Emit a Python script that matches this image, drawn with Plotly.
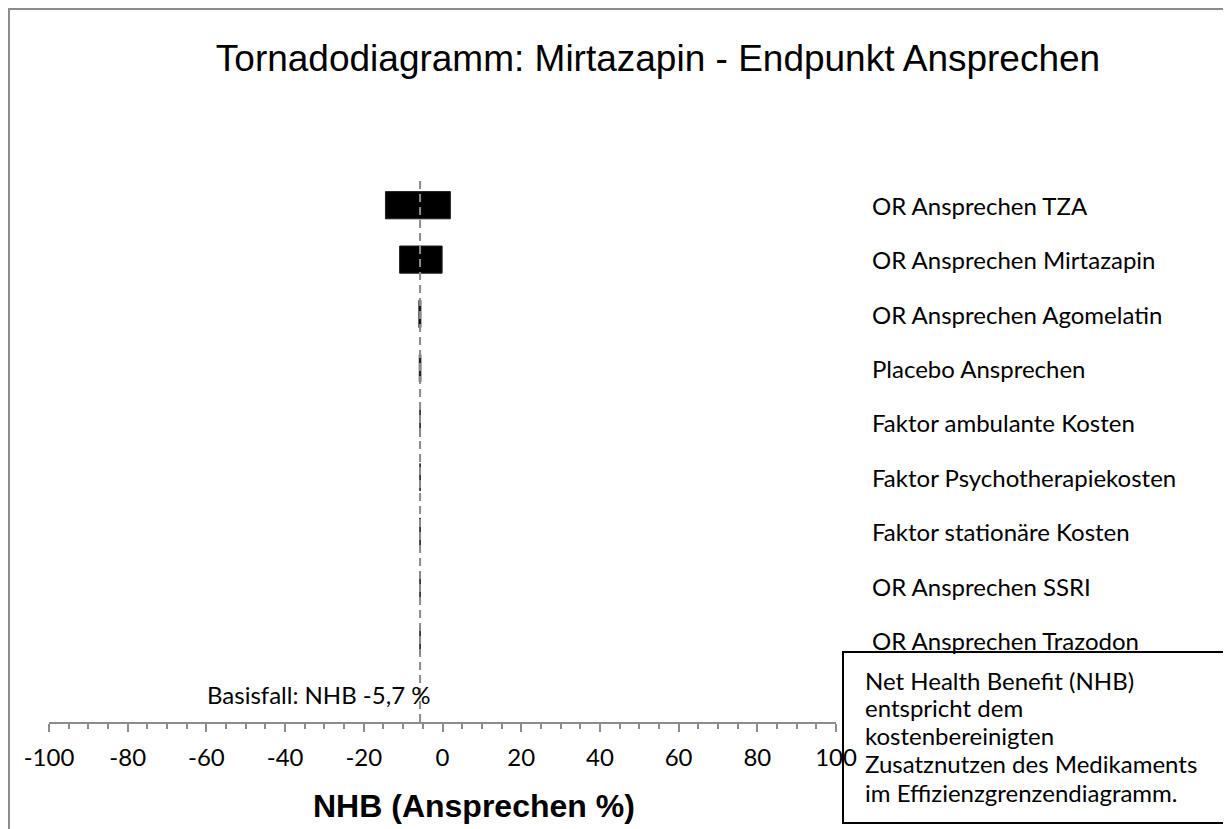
import plotly.graph_objects as go

# ---------------- data ----------------
title_text = "Tornadodiagramm: Mirtazapin - Endpunkt Ansprechen"
x_title = "NHB (Ansprechen %)"
categories = [
    "OR Ansprechen TZA",
    "OR Ansprechen Mirtazapin",
    "OR Ansprechen Agomelatin",
    "Placebo Ansprechen",
    "Faktor ambulante Kosten",
    "Faktor Psychotherapiekosten",
    "Faktor stationäre Kosten",
    "OR Ansprechen SSRI",
    "OR Ansprechen Trazodon",
]
low_values = [-14.5, -10.9, -6.0, -5.9, -5.75, -5.75, -5.75, -5.75, -5.75]
high_values = [2.0, -0.1, -5.5, -5.5, -5.65, -5.65, -5.65, -5.65, -5.65]
base_case = -5.7
base_label = "Basisfall: NHB -5,7 %"
base_category = "Basisfall"
tick_values = [-100, -80, -60, -40, -20, 0, 20, 40, 60, 80, 100]
tick_labels = ["-100", "-80", "-60", "-40", "-20", "0", "20", "40", "60", "80", "100"]
info_lines = [
    "Net Health Benefit (NHB)",
    "entspricht dem",
    "kostenbereinigten",
    "Zusatznutzen des Medikaments",
    "im Effizienzgrenzendiagramm.",
]

# ---------------- layout geometry ----------------
W, H = 1231, 829
OFF = 8  # page body margin offset
PL, PR, PT, PB = 49 - OFF, 836 - OFF, 178 - OFF, 722 - OFF  # plot area edges (figure px)


def px_x(px):
    """page pixel x -> paper coordinate"""
    return (px - OFF - PL) / (PR - PL)


def px_y(py):
    """page pixel y -> paper coordinate"""
    return (PB - (py - OFF)) / (PB - PT)


all_cats = categories + [base_category]
widths = [h - l for l, h in zip(low_values, high_values)]

fig = go.Figure()
fig.add_trace(go.Bar(
    y=categories,
    x=widths,
    base=low_values,
    orientation="h",
    marker=dict(color="black", line=dict(color="#202020", width=1)),
    showlegend=False,
    hoverinfo="skip",
))

# base-case dashed line
fig.add_shape(type="line", xref="x", yref="paper",
              x0=base_case, x1=base_case, y0=0, y1=1,
              line=dict(color="#8c8c8c", width=2, dash="8px,5px"))

lab_font = dict(family="Lato, Calibri, sans-serif", size=24, color="black")

# category labels on the right
for c in categories:
    fig.add_annotation(x=px_x(870), xref="paper", y=c, yref="y",
                       text=c, showarrow=False, xanchor="left",
                       yanchor="middle", font=lab_font)

# base-case label
fig.add_annotation(x=base_case, xref="x", y=base_category, yref="y",
                   text=base_label, showarrow=False, xanchor="right",
                   yanchor="middle", xshift=12, font=lab_font)

# axis title
fig.add_annotation(x=px_x(474), xref="paper", y=px_y(806), yref="paper",
                   text="<b>" + x_title + "</b>", showarrow=False,
                   xanchor="center", yanchor="middle",
                   font=dict(family="Liberation Sans, Arial, sans-serif",
                             size=32, color="black"))

# info text box
fig.add_shape(type="rect", xref="paper", yref="paper",
              x0=px_x(843), x1=px_x(1227), y0=px_y(823), y1=px_y(652),
              line=dict(color="black", width=2), fillcolor="rgba(0,0,0,0)")
line_y = [680, 707, 735, 763, 792]
for t, yy in zip(info_lines, line_y):
    fig.add_annotation(x=px_x(863), xref="paper", y=px_y(yy), yref="paper",
                       text=t, showarrow=False, xanchor="left",
                       yanchor="middle", font=lab_font)

# outer frame
fig.add_shape(type="rect", xref="paper", yref="paper",
              x0=px_x(9), x1=px_x(1229), y0=px_y(850), y1=px_y(9),
              line=dict(color="#8c8c8c", width=2), layer="below")

fig.update_layout(
    width=W, height=H,
    margin=dict(l=PL, r=W - PR, t=PT, b=H - PB, pad=0),
    paper_bgcolor="white", plot_bgcolor="white",
    bargap=0.5,
    title=dict(text=title_text, x=(658 - OFF) / W, xanchor="center",
               y=1 - (58 - OFF) / H, yanchor="middle",
               font=dict(family="Liberation Sans, Arial, sans-serif",
                         size=37, color="black")),
    xaxis=dict(
        range=[-100, 100], tickvals=tick_values, ticktext=tick_labels,
        ticks="outside", ticklen=8, tickwidth=1.5, tickcolor="#8c8c8c",
        showline=True, linecolor="#8c8c8c", linewidth=2,
        showgrid=False, zeroline=False,
        ticklabelstandoff=5,
        tickfont=dict(family="Lato, Calibri, sans-serif", size=24, color="black"),
        minor=dict(dtick=5, ticks="outside", ticklen=5, tickwidth=1.5,
                   tickcolor="#8c8c8c", showgrid=False),
    ),
    yaxis=dict(
        categoryorder="array", categoryarray=all_cats[::-1],
        type="category", range=[-0.5, len(all_cats) - 0.5],
        showticklabels=False, ticks="", showgrid=False,
        zeroline=False, showline=False,
    ),
    font=dict(family="Lato, Calibri, sans-serif"),
)

fig.write_html("out.html")
